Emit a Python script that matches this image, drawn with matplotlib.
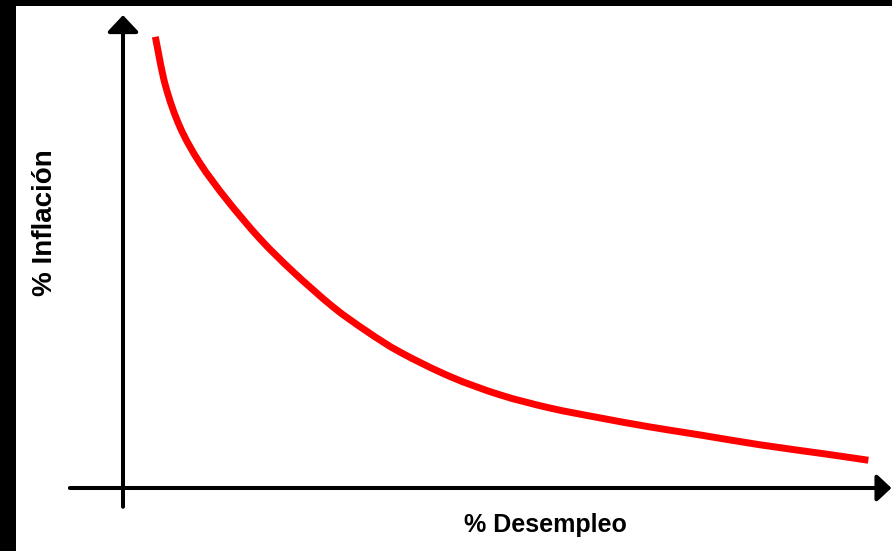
import matplotlib
matplotlib.use("Agg")
import matplotlib.pyplot as plt
from matplotlib.patches import Rectangle, PathPatch
from matplotlib.path import Path

# Phillips curve (arbitrary units)
desempleo = [0.42, 0.55, 0.74, 1.00, 1.35, 1.78, 2.21, 2.73, 3.17, 3.60, 4.25,
             4.90, 5.55, 6.20, 6.84, 7.49, 8.27, 9.14, 9.68]
inflacion = [9.60, 8.57, 7.68, 6.91, 6.13, 5.30, 4.60, 3.85, 3.33, 2.89, 2.37,
             1.98, 1.70, 1.49, 1.30, 1.13, 0.92, 0.72, 0.59]
x_label = "% Desempleo"
y_label = "% Inflación"

W, H, DPI = 892, 551, 100
fig = plt.figure(figsize=(W / DPI, H / DPI), dpi=DPI)
fig.patch.set_facecolor("white")
ax = fig.add_axes([0, 0, 1, 1])
ax.set_xlim(-123 / 77, 769 / 77)
ax.set_ylim(-63 / 47, 488 / 47)
ax.axis("off")

# black frame bands (top and left)
fig.patches.append(Rectangle((0, 0), 16 / W, 1, transform=fig.transFigure,
                             facecolor="black", edgecolor="none", zorder=0))
fig.patches.append(Rectangle((0, 1 - 6 / H), 1, 6 / H, transform=fig.transFigure,
                             facecolor="black", edgecolor="none", zorder=0))

# axes with arrows
ax.annotate("", xy=(0, 10.06), xytext=(0, -0.40), annotation_clip=False,
            arrowprops=dict(arrowstyle="-|>,head_length=0.72,head_width=0.68",
                            mutation_scale=14, lw=2.9, color="black",
                            shrinkA=0, shrinkB=0))
ax.annotate("", xy=(9.98, 0), xytext=(-0.69, 0), annotation_clip=False,
            arrowprops=dict(arrowstyle="-|>,head_length=0.62,head_width=0.58",
                            mutation_scale=14, lw=2.9, color="black",
                            shrinkA=0, shrinkB=0))

# smooth curve through the read points (Catmull-Rom rendered as Bezier path)
pts = list(zip(desempleo, inflacion))
verts = [pts[0]]
codes = [Path.MOVETO]
n = len(pts)
for i in range(n - 1):
    p0 = pts[i - 1] if i > 0 else pts[i]
    p1 = pts[i]
    p2 = pts[i + 1]
    p3 = pts[i + 2] if i + 2 < n else pts[i + 1]
    c1 = (p1[0] + (p2[0] - p0[0]) / 6, p1[1] + (p2[1] - p0[1]) / 6)
    c2 = (p2[0] - (p3[0] - p1[0]) / 6, p2[1] - (p3[1] - p1[1]) / 6)
    verts += [c1, c2, p2]
    codes += [Path.CURVE4, Path.CURVE4, Path.CURVE4]
ax.add_patch(PathPatch(Path(verts, codes), facecolor="none", edgecolor="#ff0000",
                       lw=5.0, capstyle="butt", joinstyle="round"))

fig.text(45 / W, 1 - 223 / H, y_label, rotation=90, ha="center", va="center",
         fontsize=20, family="Liberation Sans", fontweight="bold")
fig.text(545 / W, 1 - 525 / H, x_label, ha="center", va="center",
         fontsize=18, family="Liberation Sans", fontweight="bold")

fig.savefig("out.png", dpi=DPI)
